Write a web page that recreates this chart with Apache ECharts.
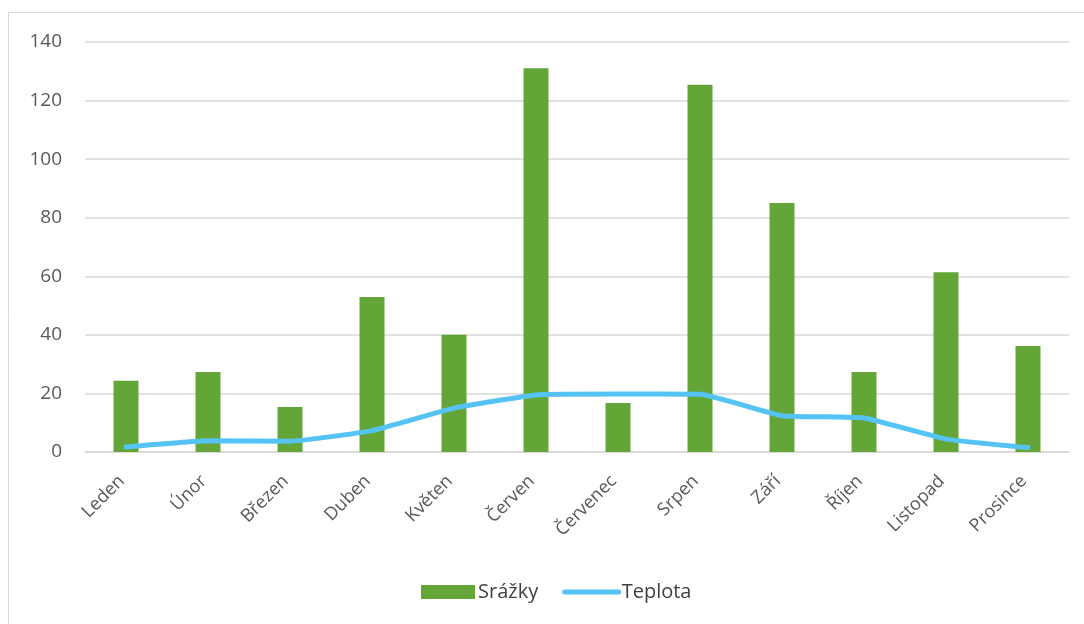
<!DOCTYPE html>
<html>
<head>
<meta charset="utf-8">
<script src="https://cdn.jsdelivr.net/npm/echarts@6/dist/echarts.min.js"></script>
<style>
html,body{margin:0;padding:0;background:#fff;}
#c{width:1084px;height:624px;}
</style>
</head>
<body>
<div id="c"></div>
<script>
const categories = ['Leden','Únor','Březen','Duben','Květen','Červen','Červenec','Srpen','Září','Říjen','Listopad','Prosince'];
const srazky = [24.3, 27.3, 15.4, 52.9, 40.0, 131.0, 16.7, 125.4, 85.0, 27.3, 61.4, 36.2];
const teplota = [1.7, 3.8, 3.7, 7.3, 15.0, 19.5, 19.8, 19.7, 12.4, 11.6, 4.4, 1.5];
const yTicks = [0, 20, 40, 60, 80, 100, 120, 140];

const chart = echarts.init(document.getElementById('c'));
const font = '"Open Sans", "Noto Sans", sans-serif';
chart.setOption({
  animation: false,
  backgroundColor: '#fff',
  graphic: [{
    type: 'rect', silent: true, z: -1,
    shape: {x: 8.5, y: 12.5, width: 1200, height: 800},
    style: {fill: 'none', stroke: '#d9d9d9', lineWidth: 1}
  }],
  grid: {left: 85, right: 15, top: 42, bottom: 172, containLabel: false},
  legend: {
    top: 577, left: 416, itemGap: 24, itemWidth: 54, itemHeight: 14,
    textStyle: {color: '#404040', fontSize: 20, fontFamily: font, padding: [0, 0, 0, -2]},
    data: [
      {name: 'Srážky', icon: 'rect'},
      {name: 'Teplota', itemStyle: {opacity: 0}, lineStyle: {width: 5, color: '#55c3f6', cap: 'round'}}
    ]
  },
  xAxis: {
    type: 'category', data: categories,
    axisLine: {show: true, lineStyle: {color: '#d9d9d9', width: 1.5}},
    axisTick: {show: false},
    axisLabel: {rotate: 45, color: '#595959', fontSize: 18, fontFamily: font, margin: 22, interval: 0, padding: [0, 6, 0, 0]}
  },
  yAxis: {
    type: 'value', min: yTicks[0], max: yTicks[yTicks.length - 1], interval: 20,
    axisLine: {show: false}, axisTick: {show: false},
    splitLine: {lineStyle: {color: '#d9d9d9', width: 1.5}},
    axisLabel: {color: '#595959', fontSize: 19, fontFamily: font, margin: 23}
  },
  series: [
    {
      name: 'Srážky', type: 'bar', data: srazky, barWidth: 25,
      itemStyle: {color: '#63a537'}
    },
    {
      name: 'Teplota', type: 'line', data: teplota, smooth: 0.12,
      symbol: 'none', showSymbol: false,
      lineStyle: {color: '#55c3f6', width: 5, cap: 'round'},
      itemStyle: {color: '#55c3f6'}
    }
  ]
});
</script>
</body>
</html>
